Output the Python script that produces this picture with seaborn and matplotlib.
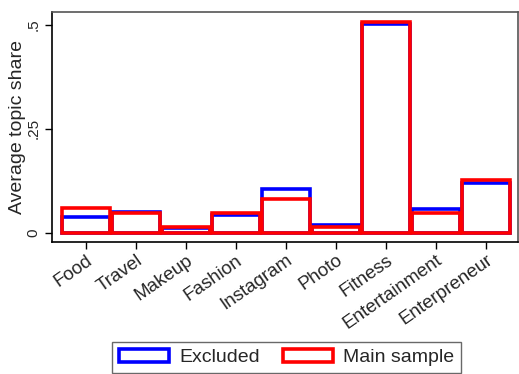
import matplotlib
matplotlib.use('Agg')
import numpy as np
import pandas as pd
import matplotlib.pyplot as plt
import seaborn as sns

# Topic shares
topics = ['Food', 'Travel', 'Makeup', 'Fashion', 'Instagram', 'Photo',
          'Fitness', 'Entertainment', 'Enterpreneur']
excluded = [0.039, 0.051, 0.011, 0.043, 0.106, 0.018, 0.502, 0.057, 0.121]
main_sample = [0.060, 0.049, 0.015, 0.047, 0.081, 0.015, 0.507, 0.049, 0.127]
groups = ['Excluded', 'Main sample']
colors = ['#0000ff', '#ff0000']

df = pd.DataFrame({
    'topic': topics * 2,
    'share': excluded + main_sample,
    'group': [groups[0]] * len(topics) + [groups[1]] * len(topics),
})

sns.set_style('white')
plt.rcParams['font.family'] = ['Liberation Sans', 'DejaVu Sans']

fig = plt.figure(figsize=(5.19, 3.74), dpi=100)
ax = fig.add_axes([0.1002, 0.353, 0.898, 0.615])

sns.barplot(data=df, x='topic', y='share', hue='group', hue_order=groups,
            palette=colors, dodge=False, fill=False, width=0.97,
            linewidth=2.6, ax=ax, legend=False)
for patch in ax.patches:
    patch.set_facecolor('none')

ax.set_xlim(-0.68, 8.64)
ax.set_ylim(-0.0216, 0.531)
ax.set_yticks([0, 0.25, 0.5])
ax.set_yticklabels(['0', '.25', '.5'], rotation=90, va='center', fontsize=11)
ax.set_xticks(range(len(topics)))
ax.set_xticklabels(topics, rotation=35, ha='right', rotation_mode='anchor',
                   fontsize=13.5)
ax.tick_params(axis='both', direction='out', length=5, width=1, color='black',
               bottom=True, left=True)
ax.tick_params(axis='x', pad=2)
ax.set_xlabel('')
ax.set_ylabel('Average topic share', fontsize=14, labelpad=0)

for side in ['left', 'bottom']:
    ax.spines[side].set_color('black')
    ax.spines[side].set_linewidth(1.2)
for side in ['top', 'right']:
    ax.spines[side].set_color('#555555')
    ax.spines[side].set_linewidth(1.2)

handles = [plt.Rectangle((0, 0), 1, 1, facecolor='white', edgecolor=c, linewidth=2.6)
           for c in colors]
leg = fig.legend(handles, groups, loc='center', bbox_to_anchor=(0.552, 0.044),
                 ncol=2, fontsize=14, frameon=True, fancybox=False,
                 handlelength=2.6, handleheight=0.65, columnspacing=1.2,
                 handletextpad=0.5, borderpad=0.35)
leg.get_frame().set_edgecolor('#444444')
leg.get_frame().set_linewidth(1)

fig.savefig('out.png', dpi=100)
